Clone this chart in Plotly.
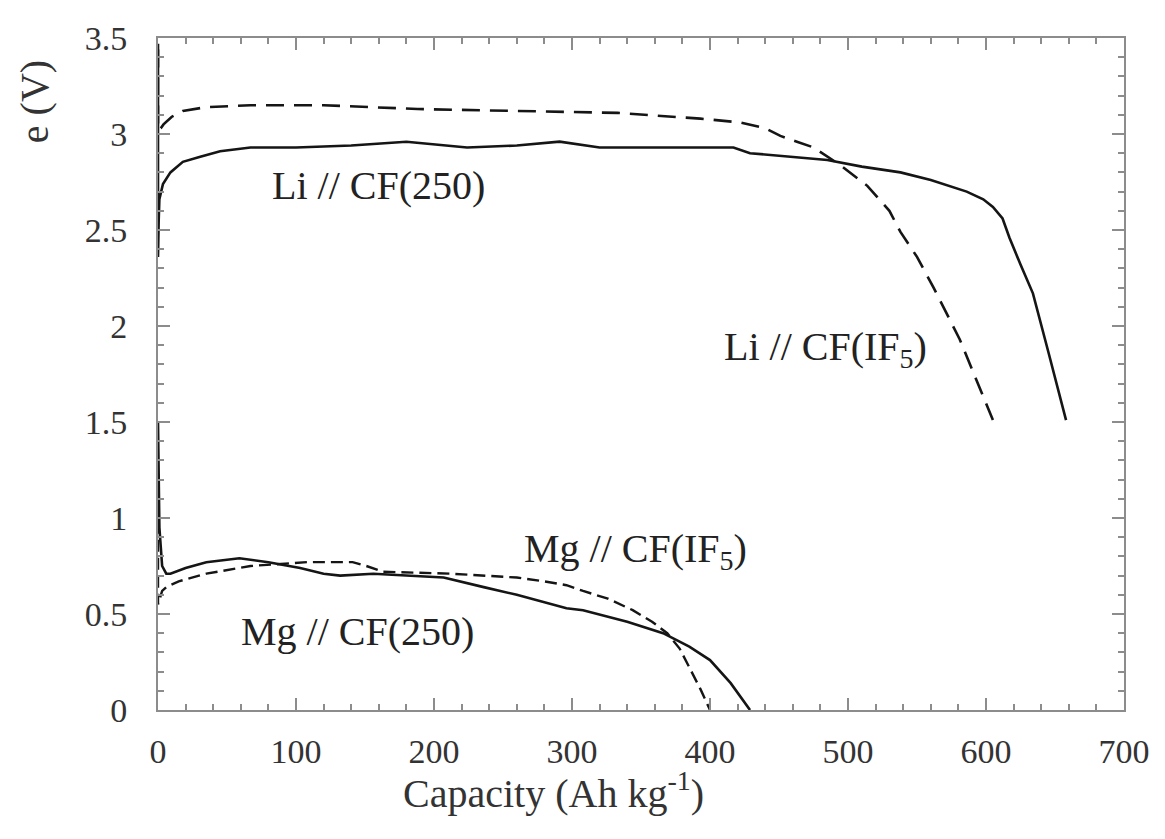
import plotly.graph_objects as go

# Li // CF(250) - solid
li250_x = [0, 0, 0.5, 1, 3.6, 9, 18, 30, 45, 67, 100, 140, 180, 224, 260, 291, 320, 342, 380, 417, 429, 460, 485, 510, 538, 560, 586, 598, 605, 612, 617, 625, 634, 645, 658]
li250_y = [3.47, 2.36, 2.55, 2.66, 2.74, 2.80, 2.855, 2.88, 2.91, 2.93, 2.93, 2.94, 2.96, 2.93, 2.94, 2.96, 2.93, 2.93, 2.93, 2.93, 2.90, 2.88, 2.865, 2.83, 2.80, 2.76, 2.70, 2.66, 2.62, 2.56, 2.46, 2.32, 2.17, 1.87, 1.51]

# Li // CF(IF5) - dashed
liif5_x = [0, 0, 2, 4, 10, 18, 35, 67, 120, 188, 260, 333, 393, 422, 440, 451, 463, 475, 494, 514, 530, 538, 550, 562, 581, 593, 605]
liif5_y = [3.44, 3.02, 3.03, 3.05, 3.09, 3.12, 3.14, 3.15, 3.15, 3.13, 3.12, 3.11, 3.08, 3.06, 3.03, 2.99, 2.96, 2.93, 2.84, 2.73, 2.60, 2.49, 2.36, 2.20, 1.93, 1.72, 1.51]

# Mg // CF(250) - solid
mg250_x = [0, 1, 3, 6, 9, 20, 35, 59, 80, 103, 120, 132, 156, 180, 207, 236, 260, 296, 308, 340, 366, 385, 400, 415, 429]
mg250_y = [1.5, 0.95, 0.75, 0.71, 0.71, 0.74, 0.77, 0.79, 0.77, 0.74, 0.71, 0.70, 0.71, 0.70, 0.69, 0.64, 0.60, 0.53, 0.52, 0.46, 0.40, 0.33, 0.26, 0.14, 0.0]

# Mg // CF(IF5) - dashed
mgif5_x = [0, 0, 3, 6, 15, 35, 67, 108, 141, 151, 163, 212, 260, 280, 296, 308, 326, 344, 358, 369, 378, 385, 393, 400]
mgif5_y = [0.98, 0.55, 0.62, 0.64, 0.67, 0.71, 0.75, 0.77, 0.77, 0.75, 0.72, 0.71, 0.69, 0.67, 0.65, 0.62, 0.58, 0.52, 0.46, 0.40, 0.32, 0.22, 0.11, 0.0]

labels = ["Li // CF(250)", "Li // CF(IF<sub>5</sub>)", "Mg // CF(250)", "Mg // CF(IF<sub>5</sub>)"]
label_x = [81, 409, 59, 264]
label_y = [2.73, 1.88, 0.41, 0.83]

x_ticks = [0, 100, 200, 300, 400, 500, 600, 700]
y_ticks = [0, 0.5, 1, 1.5, 2, 2.5, 3, 3.5]

FONT = "Liberation Serif"
LINE = "#151515"

fig = go.Figure()
fig.add_trace(go.Scatter(x=li250_x, y=li250_y, mode="lines", line=dict(color=LINE, width=2.6)))
fig.add_trace(go.Scatter(x=liif5_x, y=liif5_y, mode="lines", line=dict(color=LINE, width=2.6, dash="18px,10px")))
fig.add_trace(go.Scatter(x=mg250_x, y=mg250_y, mode="lines", line=dict(color=LINE, width=2.6)))
fig.add_trace(go.Scatter(x=mgif5_x, y=mgif5_y, mode="lines", line=dict(color=LINE, width=2.4, dash="12px,6px")))

for t, lx, ly in zip(labels, label_x, label_y):
    fig.add_annotation(x=lx, y=ly, text=t, showarrow=False, xanchor="left", yanchor="middle",
                       font=dict(family=FONT, size=40, color="#222"))

fig.add_annotation(xref="paper", yref="paper", x=0.409, y=-0.12, text="Capacity (Ah kg<sup>-1</sup>)",
                   showarrow=False, xanchor="center", yanchor="middle",
                   font=dict(family=FONT, size=40, color="#333"))
fig.add_annotation(xref="paper", yref="paper", x=-0.127, y=0.905, text="e (V)", textangle=-90,
                   showarrow=False, xanchor="center", yanchor="middle",
                   font=dict(family=FONT, size=40, color="#333"))

axis_common = dict(
    showline=True, linecolor="#8c8c8c", linewidth=2, mirror="allticks",
    ticks="inside", tickcolor="#8c8c8c", tickwidth=1.5, ticklen=12,
    showgrid=False, zeroline=False, ticklabeloverflow="allow",
    tickfont=dict(family=FONT, size=34, color="#333"),
)

fig.update_xaxes(range=[0, 700], tickvals=x_ticks, ticktext=[str(v) for v in x_ticks],
                 minor=dict(ticks="inside", dtick=20, ticklen=6, tickcolor="#8c8c8c", tickwidth=1.5, showgrid=False),
                 ticklabelstandoff=10, **axis_common)
fig.update_yaxes(range=[0, 3.5], tickvals=y_ticks, ticktext=[("%g" % v) for v in y_ticks],
                 minor=dict(ticks="inside", dtick=0.1, ticklen=6, tickcolor="#8c8c8c", tickwidth=1.5, showgrid=False),
                 ticklabelstandoff=22, **axis_common)

fig.update_layout(
    width=1157, height=823,
    margin=dict(l=150, r=41, t=22, b=121),
    paper_bgcolor="white", plot_bgcolor="white",
    font=dict(family=FONT, size=34, color="#333"),
    showlegend=False,
)

fig.write_html("out.html")
